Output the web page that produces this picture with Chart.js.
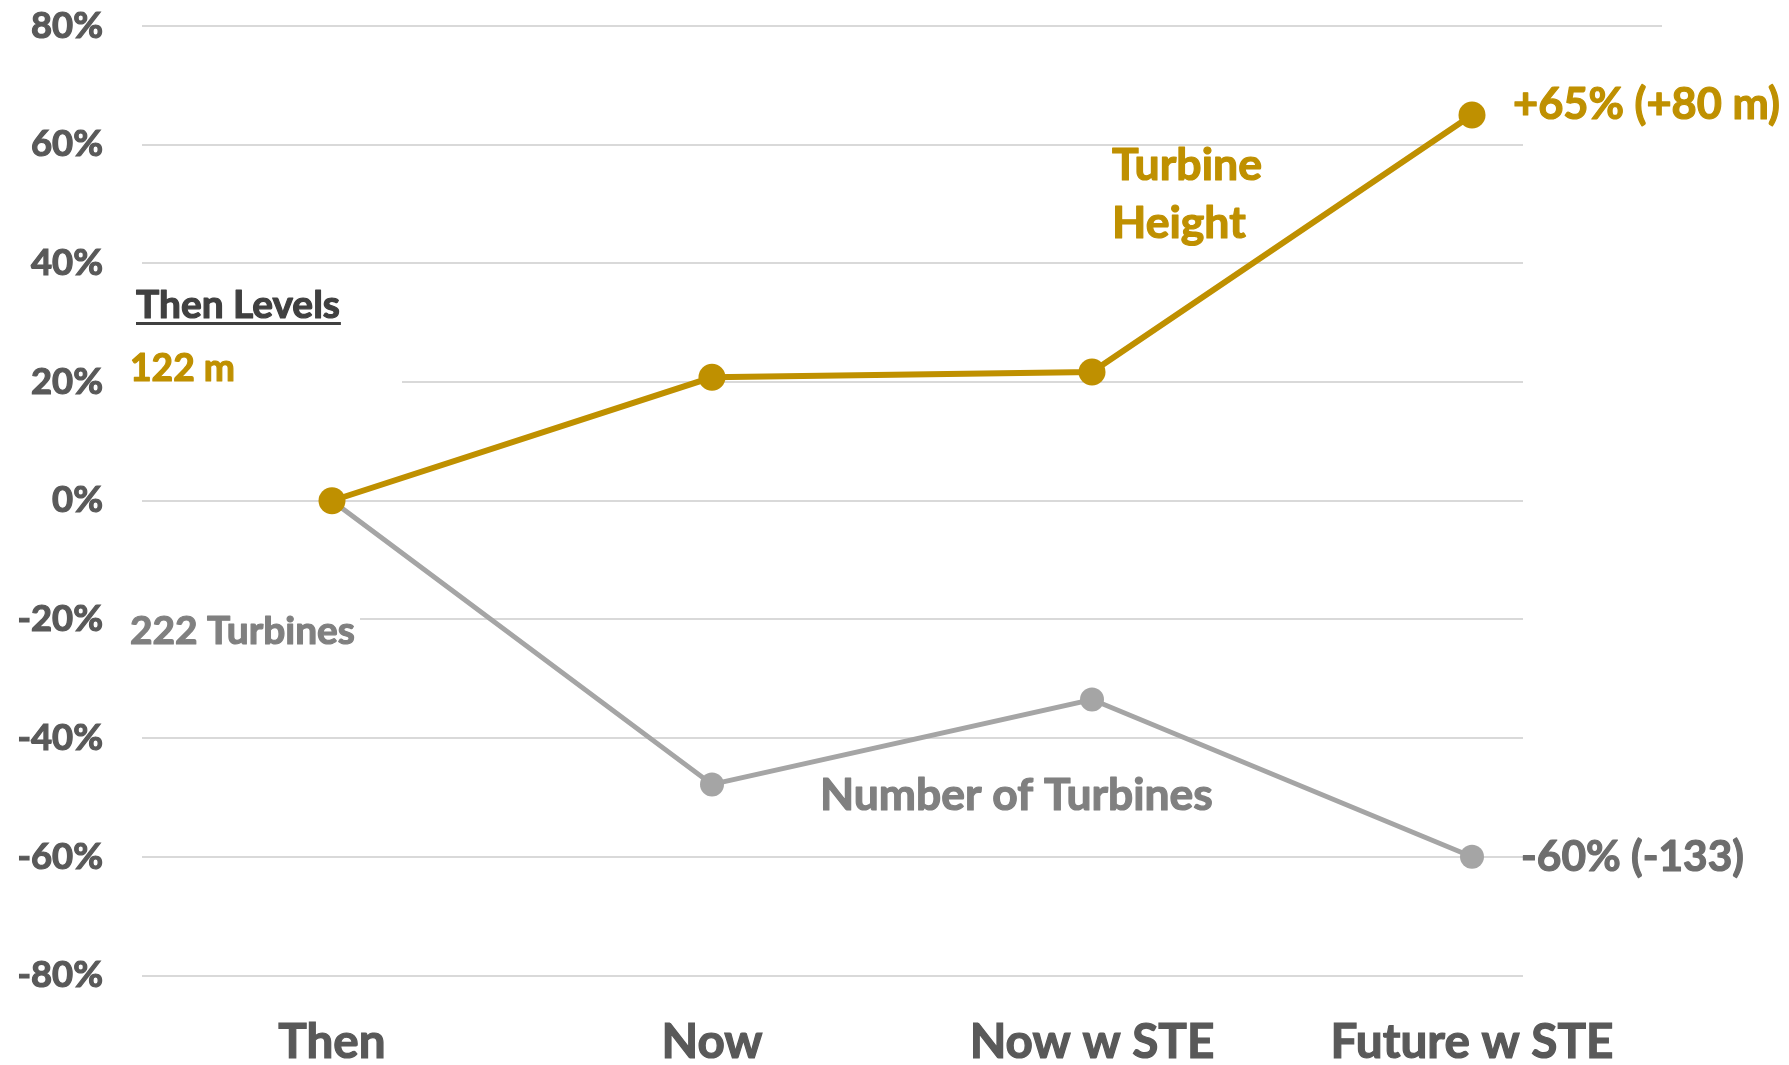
<!DOCTYPE html>
<html>
<head>
<meta charset="utf-8">
<script src="https://cdn.jsdelivr.net/npm/chart.js@4.4.1/dist/chart.umd.min.js"></script>
<style>
  html, body { margin: 0; padding: 0; background: #ffffff; }
  #wrap { width: 1789px; height: 1065px; }
</style>
</head>
<body>
<div id="wrap"><canvas id="c" width="1789" height="1065"></canvas></div>
<script>
// ---- data ----
const categories = ['Then', 'Now', 'Now w STE', 'Future w STE'];
const turbineHeightPct = [0, 20.8, 21.7, 65.0];
const turbineCountPct = [0, -47.8, -33.5, -60.0];
const yMin = -80;
const yMax = 80;
const yStep = 20;
const seriesNames = ['Turbine Height', 'Number of Turbines'];
const annotationTexts = {
  thenLevels: 'Then Levels',
  thenHeight: '122 m',
  thenCount: '222 Turbines',
  heightName1: 'Turbine',
  heightName2: 'Height',
  countName: 'Number of Turbines',
  heightEnd: '+65% (+80 m)',
  countEnd: '-60% (-133)'
};

// ---- styles ----
const GOLD = '#BF9000';
const GRAY = '#A5A5A5';
const FONT = 'Lato';

const mctx = document.createElement('canvas').getContext('2d');
function fit(text, w) {
  mctx.font = 'bold 100px ' + FONT;
  return 100 * w / mctx.measureText(text).width;
}
const tickSize = fit('80%', 72);
const xSize = fit('Future w STE', 283);

const annotations = [
  { t: annotationTexts.thenLevels, x: 136, y: 318, w: 204, c: '#404040', u: true },
  { t: annotationTexts.thenHeight, x: 130, y: 381, w: 105, c: GOLD },
  { t: annotationTexts.thenCount, x: 130, y: 644, w: 225, c: '#808080' },
  { t: annotationTexts.heightName1, x: 1112, y: 180, w: 150, c: GOLD },
  { t: annotationTexts.heightName2, x: 1112, y: 238, w: 129, c: GOLD, ref: annotationTexts.heightName1, refw: 150 },
  { t: annotationTexts.countName, x: 820, y: 810, w: 393, c: '#808080' },
  { t: annotationTexts.heightEnd, x: 1513, y: 119, w: 267, c: GOLD },
  { t: annotationTexts.countEnd, x: 1521, y: 871, w: 223, c: '#6E6E6E' }
];

const coverPlugin = {
  id: 'cover',
  beforeDatasetsDraw(chart) {
    const ctx = chart.ctx;
    const y = chart.scales.y;
    ctx.save();
    ctx.fillStyle = '#ffffff';
    ctx.fillRect(1523, y.getPixelForValue(70), 200, y.getPixelForValue(-85) - y.getPixelForValue(70));
    const g20 = y.getPixelForValue(20);
    ctx.fillRect(130, g20 - 5, 402 - 130, 10);
    const gm20 = y.getPixelForValue(-20);
    ctx.fillRect(130, gm20 - 5, 360 - 130, 10);
    ctx.restore();
  },
  afterDraw(chart) {
    const ctx = chart.ctx;
    ctx.save();
    ctx.textAlign = 'left';
    ctx.textBaseline = 'alphabetic';
    ctx.lineJoin = 'round';
    annotations.forEach(a => {
      const size = a.ref ? fit(a.ref, a.refw) : fit(a.t, a.w);
      ctx.font = 'bold ' + size + 'px ' + FONT;
      ctx.fillStyle = a.c;
      ctx.strokeStyle = a.c;
      ctx.lineWidth = 1.2;
      ctx.fillText(a.t, a.x, a.y);
      ctx.strokeText(a.t, a.x, a.y);
      if (a.u) {
        const w = ctx.measureText(a.t).width;
        ctx.fillRect(a.x, a.y + 4, w + 1, 3);
      }
    });
    ctx.restore();
  }
};

new Chart(document.getElementById('c'), {
  type: 'line',
  data: {
    labels: categories,
    datasets: [
      {
        label: seriesNames[0],
        data: turbineHeightPct,
        borderColor: GOLD,
        backgroundColor: GOLD,
        borderWidth: 6,
        pointRadius: 13.5,
        pointBorderWidth: 0,
        pointBackgroundColor: GOLD,
        tension: 0,
        clip: false
      },
      {
        label: seriesNames[1],
        data: turbineCountPct,
        borderColor: GRAY,
        backgroundColor: GRAY,
        borderWidth: 5,
        pointRadius: 12,
        pointBorderWidth: 0,
        pointBackgroundColor: GRAY,
        tension: 0,
        clip: false
      }
    ]
  },
  options: {
    responsive: false,
    animation: false,
    events: [],
    layout: { padding: { top: 26, right: 127, left: 0, bottom: 0 } },
    plugins: { legend: { display: false }, tooltip: { enabled: false } },
    scales: {
      x: {
        offset: true,
        grid: { display: false, drawTicks: false },
        border: { display: false },
        ticks: {
          color: '#595959',
          textStrokeColor: '#595959',
          textStrokeWidth: 1.2,
          font: { family: FONT, weight: 'bold', size: xSize },
          padding: 67.5 - 0.6 * xSize,
          maxRotation: 0,
          autoSkip: false
        },
        afterFit(s) { s.height = 89.5; s.paddingLeft = 0; s.paddingRight = 0; }
      },
      y: {
        min: yMin,
        max: yMax,
        grid: { color: '#D9D9D9', lineWidth: 2, drawTicks: false },
        border: { display: false },
        ticks: {
          stepSize: yStep,
          color: '#595959',
          textStrokeColor: '#595959',
          textStrokeWidth: 1.2,
          font: { family: FONT, weight: 'bold', size: tickSize },
          padding: 39,
          callback: v => v + '%'
        },
        afterFit(s) { s.width = 142; s.paddingTop = 0; s.paddingBottom = 0; }
      }
    }
  },
  plugins: [coverPlugin]
});
</script>
</body>
</html>
